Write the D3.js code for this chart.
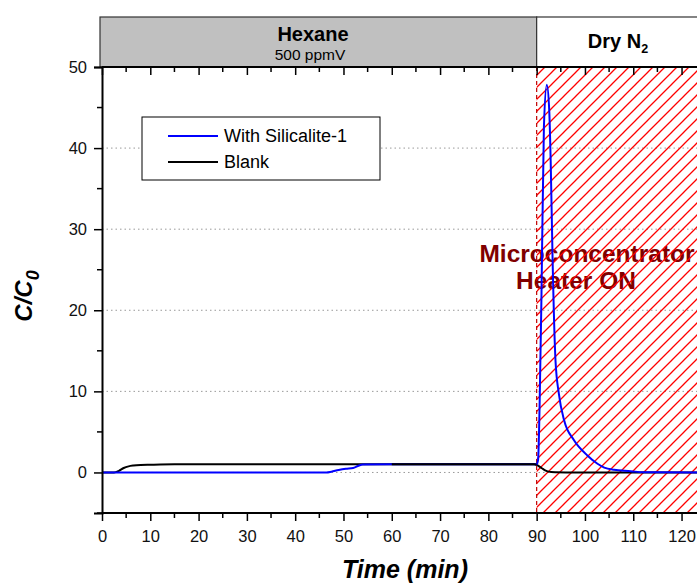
<!DOCTYPE html>
<html>
<head>
<meta charset="utf-8">
<script src="https://cdn.jsdelivr.net/npm/d3@7"></script>
<style>
  body { margin: 0; background: #fff; }
  svg { font-family: "Liberation Sans", Arial, sans-serif; }
</style>
</head>
<body>
<div id="chart"></div>
<script>
// Data (time in min, C/C0)
var blankTime  = [0, 2.5, 3.5, 4.5, 5.5, 6.5, 8, 10, 15, 30, 60, 89.5, 90, 90.5, 91, 91.5, 92, 92.5, 93, 94, 96, 124];
var blankValue = [0, 0, 0.2, 0.55, 0.75, 0.85, 0.92, 0.95, 1.0, 1.0, 1.0, 1.0, 0.95, 0.75, 0.55, 0.35, 0.2, 0.1, 0.05, 0.02, 0, 0];

var silTime  = [0, 46.5, 47.5, 49, 50.5, 52, 53, 54, 60, 89.5, 90, 90.3, 90.6, 91, 91.5, 92.1, 92.6, 92.9, 93.3, 93.9, 94.6, 95.7, 97.7, 100.5, 102.6, 104, 106, 109.5, 112, 124];
var silValue = [0, 0, 0.1, 0.3, 0.45, 0.55, 0.8, 0.98, 1.0, 1.0, 1.0, 1.6, 8, 22, 42.6, 47.8, 44.7, 38.5, 26.2, 13.8, 9.7, 6.4, 4.0, 2.1, 1.07, 0.6, 0.33, 0.16, 0.02, 0];

var xTicks = [0, 10, 20, 30, 40, 50, 60, 70, 80, 90, 100, 110, 120];
var yTicks = [0, 10, 20, 30, 40, 50];
var gridValues = [0, 10, 20, 30, 40];

var seriesNames = ["With Silicalite-1", "Blank"];
var seriesColors = ["#0000ff", "#000000"];

var heaterStart = 90;

var width = 697, height = 583;

var svg = d3.select("#chart").append("svg")
    .attr("width", width)
    .attr("height", height);

var x = d3.scaleLinear().domain([0, 123.2]).range([102, 697]);
var y = d3.scaleLinear().domain([-5, 50]).range([513, 67]);

// hatch pattern for the heater region
var defs = svg.append("defs");
var pat = defs.append("pattern")
    .attr("id", "hatch")
    .attr("patternUnits", "userSpaceOnUse")
    .attr("width", 12)
    .attr("height", 12);
pat.append("path")
    .attr("d", "M-1,1 l2,-2 M0,12 l12,-12 M11,13 l2,-2")
    .attr("stroke", "#ff0000")
    .attr("stroke-width", 1.3);

// header band
var headTop = 17;
svg.append("rect")
    .attr("x", 100).attr("y", headTop)
    .attr("width", x(heaterStart) - 100).attr("height", y(50) - headTop)
    .attr("fill", "#c0c0c0").attr("stroke", "#333").attr("stroke-width", 1.2);
svg.append("rect")
    .attr("x", x(heaterStart)).attr("y", headTop)
    .attr("width", width - x(heaterStart) + 5).attr("height", y(50) - headTop)
    .attr("fill", "#fff").attr("stroke", "#333").attr("stroke-width", 1.2);

svg.append("text")
    .attr("x", 313).attr("y", 41)
    .attr("text-anchor", "middle")
    .attr("font-size", 20).attr("font-weight", "bold")
    .text("Hexane");
svg.append("text")
    .attr("x", 310).attr("y", 60)
    .attr("text-anchor", "middle")
    .attr("font-size", 15.5)
    .text("500 ppmV");
var dry = svg.append("text")
    .attr("x", 618).attr("y", 48)
    .attr("text-anchor", "middle")
    .attr("font-size", 20).attr("font-weight", "bold");
dry.append("tspan").text("Dry N");
dry.append("tspan").attr("font-size", 12.5).attr("dy", 5).text("2");

// grid
svg.append("g").selectAll("line")
    .data(gridValues)
    .join("line")
    .attr("x1", x(0)).attr("x2", width)
    .attr("y1", d => y(d)).attr("y2", d => y(d))
    .attr("stroke", "#999").attr("stroke-width", 1)
    .attr("stroke-dasharray", "1.5,3");

// annotation
var ann = svg.append("g")
    .attr("fill", "#800000")
    .attr("font-size", 24.5).attr("font-weight", "bold")
    .attr("text-anchor", "middle");
ann.append("text").attr("x", 587).attr("y", 262).text("Microconcentrator");
ann.append("text").attr("x", 576).attr("y", 289).text("Heater ON");

// hatched heater region (drawn over the annotation, as in the figure)
svg.append("rect")
    .attr("x", x(heaterStart)).attr("y", y(50))
    .attr("width", width - x(heaterStart)).attr("height", y(-5) - y(50))
    .attr("fill", "url(#hatch)");
svg.append("line")
    .attr("x1", x(heaterStart)).attr("x2", x(heaterStart))
    .attr("y1", y(50)).attr("y2", y(-5))
    .attr("stroke", "#c00000").attr("stroke-width", 1.2)
    .attr("stroke-dasharray", "4,3");

// series
var line = d3.line()
    .x(d => x(d[0]))
    .y(d => y(d[1]))
    .curve(d3.curveMonotoneX);

svg.append("path")
    .datum(d3.zip(blankTime, blankValue))
    .attr("d", line)
    .attr("fill", "none")
    .attr("stroke", seriesColors[1])
    .attr("stroke-width", 2);

svg.append("path")
    .datum(d3.zip(silTime, silValue))
    .attr("d", line)
    .attr("fill", "none")
    .attr("stroke", seriesColors[0])
    .attr("stroke-width", 2);

// blank plateau drawn over the blue one (as in the figure)
svg.append("path")
    .datum(d3.zip(blankTime, blankValue).filter(d => d[0] >= 54 && d[0] <= 90))
    .attr("d", line)
    .attr("fill", "none")
    .attr("stroke", seriesColors[1])
    .attr("stroke-width", 2);

// axes
var minorX = d3.range(5, 125, 10);
var minorY = d3.range(-5, 50, 10);

var bottomAxis = svg.append("g")
    .attr("transform", "translate(0," + y(-5) + ")");
bottomAxis.call(d3.axisBottom(x).tickValues(xTicks).tickSize(8).tickPadding(9).tickFormat(d3.format("d")));
bottomAxis.selectAll("line.minor").data(minorX).join("line")
    .attr("class", "minor")
    .attr("x1", d => x(d)).attr("x2", d => x(d))
    .attr("y1", 0).attr("y2", 5)
    .attr("stroke", "#000").attr("stroke-width", 1.5);

var topAxis = svg.append("g")
    .attr("transform", "translate(0," + y(50) + ")");
topAxis.call(d3.axisBottom(x).tickValues(xTicks).tickSize(8).tickFormat(""));
topAxis.selectAll("line.minor").data(minorX).join("line")
    .attr("class", "minor")
    .attr("x1", d => x(d)).attr("x2", d => x(d))
    .attr("y1", 0).attr("y2", 5)
    .attr("stroke", "#000").attr("stroke-width", 1.5);

var leftAxis = svg.append("g")
    .attr("transform", "translate(" + x(0) + ",0)");
leftAxis.call(d3.axisLeft(y).tickValues(yTicks).tickSize(8).tickPadding(7).tickFormat(d3.format("d")));
leftAxis.selectAll("line.minor").data(minorY).join("line")
    .attr("class", "minor")
    .attr("x1", 0).attr("x2", -5)
    .attr("y1", d => y(d)).attr("y2", d => y(d))
    .attr("stroke", "#000").attr("stroke-width", 1.5);

[bottomAxis, topAxis, leftAxis].forEach(function(g) {
    g.select(".domain").attr("stroke-width", 2).attr("stroke", "#000");
    g.selectAll(".tick line").attr("stroke-width", 1.5);
    g.selectAll(".tick text")
        .attr("font-family", "'Liberation Sans', Arial, sans-serif")
        .attr("font-size", 16.5).attr("fill", "#111");
});
bottomAxis.select(".domain").attr("d", "M" + x(0) + ",0H" + width);
topAxis.select(".domain").attr("d", "M" + x(0) + ",0H" + width);

// axis titles
svg.append("text")
    .attr("x", 405).attr("y", 578)
    .attr("text-anchor", "middle")
    .attr("font-size", 25).attr("font-weight", "bold").attr("font-style", "italic")
    .text("Time (min)");

var yt = svg.append("text")
    .attr("transform", "translate(32,296) rotate(-90)")
    .attr("text-anchor", "middle")
    .attr("font-size", 24).attr("font-weight", "bold").attr("font-style", "italic");
yt.append("tspan").text("C/C");
yt.append("tspan").attr("font-size", 18).attr("dy", 7).text("0");

// legend
var leg = svg.append("g");
leg.append("rect")
    .attr("x", 142).attr("y", 117).attr("width", 238).attr("height", 63)
    .attr("fill", "#fff").attr("stroke", "#000").attr("stroke-width", 1);
seriesNames.forEach(function(name, i) {
    var ly = 136 + i * 26;
    leg.append("line")
        .attr("x1", 168).attr("x2", 218)
        .attr("y1", ly).attr("y2", ly)
        .attr("stroke", seriesColors[i]).attr("stroke-width", 2);
    leg.append("text")
        .attr("x", 224).attr("y", ly + 6)
        .attr("font-size", 18)
        .text(name);
});
</script>
</body>
</html>
